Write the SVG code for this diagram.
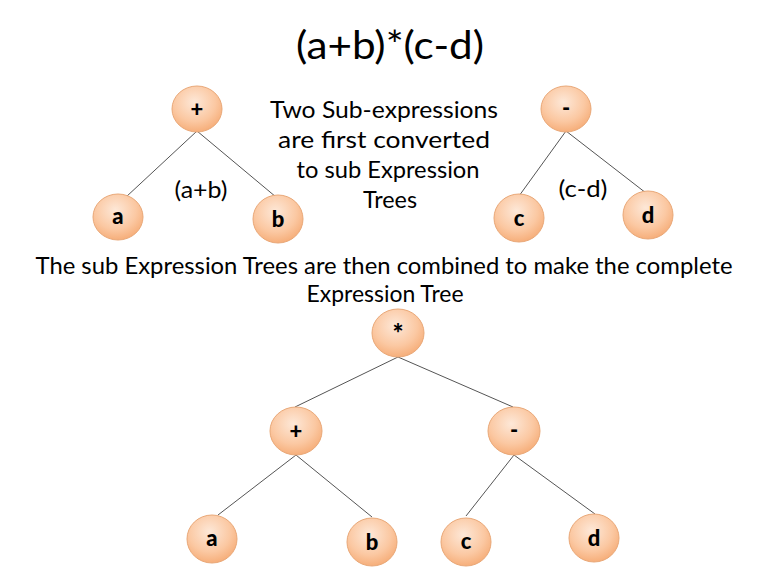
<svg xmlns="http://www.w3.org/2000/svg" width="768" height="576" viewBox="0 0 768 576">
<defs>
<radialGradient id="g" cx="0.45" cy="0.35" r="0.7">
<stop offset="0" stop-color="#fde8d8"/>
<stop offset="0.6" stop-color="#fbc8a2"/>
<stop offset="1" stop-color="#f5a972"/>
</radialGradient>
<style>
.n{fill:url(#g);stroke:#e9a878;stroke-width:1}
.l{font-family:Lato,"Liberation Sans",sans-serif;font-weight:900;font-size:22px;fill:#000;text-anchor:middle}
.t{font-family:Lato,"Open Sans","Liberation Sans",sans-serif;font-size:24px;fill:#000;text-anchor:middle}
.e{stroke:#555;stroke-width:1;fill:none}
</style>
</defs>
<rect width="768" height="576" fill="#fff"/>
<text class="t" x="390" y="59" style="font-size:38px" textLength="188" lengthAdjust="spacingAndGlyphs">(a+b)*(c-d)</text>
<text class="t" x="384" y="118" textLength="228" lengthAdjust="spacingAndGlyphs">Two Sub-expressions</text>
<text class="t" x="384" y="148" textLength="212" lengthAdjust="spacingAndGlyphs">are first converted</text>
<text class="t" x="388" y="178" textLength="183" lengthAdjust="spacingAndGlyphs">to sub Expression</text>
<text class="t" x="390" y="208" textLength="54" lengthAdjust="spacingAndGlyphs">Trees</text>
<text class="t" x="201" y="198" textLength="53" lengthAdjust="spacingAndGlyphs">(a+b)</text>
<text class="t" x="583" y="197" textLength="49" lengthAdjust="spacingAndGlyphs">(c-d)</text>
<text class="t" x="384" y="274" textLength="697" lengthAdjust="spacingAndGlyphs">The sub Expression Trees are then combined to make the complete</text>
<text class="t" x="385" y="302" textLength="157" lengthAdjust="spacingAndGlyphs">Expression Tree</text>
<g id="edges">
<line class="e" x1="197" y1="131" x2="126" y2="197"/>
<line class="e" x1="197" y1="131" x2="276" y2="197"/>
<line class="e" x1="566" y1="131" x2="519" y2="196"/>
<line class="e" x1="566" y1="131" x2="646" y2="193"/>
<line class="e" x1="398" y1="357" x2="295" y2="407"/>
<line class="e" x1="398" y1="357" x2="513" y2="407"/>
<line class="e" x1="296" y1="455" x2="218" y2="515"/>
<line class="e" x1="296" y1="455" x2="372" y2="517"/>
<line class="e" x1="514" y1="455" x2="466" y2="516"/>
<line class="e" x1="514" y1="455" x2="595" y2="514"/>
</g>
<g id="n-plus1"><ellipse class="n" cx="197" cy="109" rx="25" ry="23"/><text class="l" x="197" y="117">+</text></g>
<g id="n-a1"><ellipse class="n" cx="118" cy="217" rx="25" ry="23"/><text class="l" x="118" y="224">a</text></g>
<g id="n-b1"><ellipse class="n" cx="278" cy="219" rx="25" ry="24"/><text class="l" x="278" y="227">b</text></g>
<g id="n-minus1"><ellipse class="n" cx="566" cy="109" rx="25" ry="23"/><text class="l" x="566" y="116">-</text></g>
<g id="n-c1"><ellipse class="n" cx="519" cy="218" rx="25" ry="24"/><text class="l" x="519" y="226">c</text></g>
<g id="n-d1"><ellipse class="n" cx="648" cy="215" rx="25" ry="24"/><text class="l" x="648" y="223">d</text></g>
<g id="n-mul"><ellipse class="n" cx="398" cy="333" rx="26" ry="24"/><text class="l" x="398" y="343" style="font-size:26px">*</text></g>
<g id="n-plus2"><ellipse class="n" cx="296" cy="431" rx="26" ry="24"/><text class="l" x="296" y="439">+</text></g>
<g id="n-minus2"><ellipse class="n" cx="514" cy="431" rx="26" ry="24"/><text class="l" x="514" y="438">-</text></g>
<g id="n-a2"><ellipse class="n" cx="212" cy="539" rx="25" ry="24"/><text class="l" x="212" y="546">a</text></g>
<g id="n-b2"><ellipse class="n" cx="372" cy="542" rx="25" ry="24"/><text class="l" x="372" y="550">b</text></g>
<g id="n-c2"><ellipse class="n" cx="466" cy="542" rx="25" ry="24"/><text class="l" x="466" y="549">c</text></g>
<g id="n-d2"><ellipse class="n" cx="594" cy="538" rx="25" ry="24"/><text class="l" x="594" y="546">d</text></g>
</svg>
